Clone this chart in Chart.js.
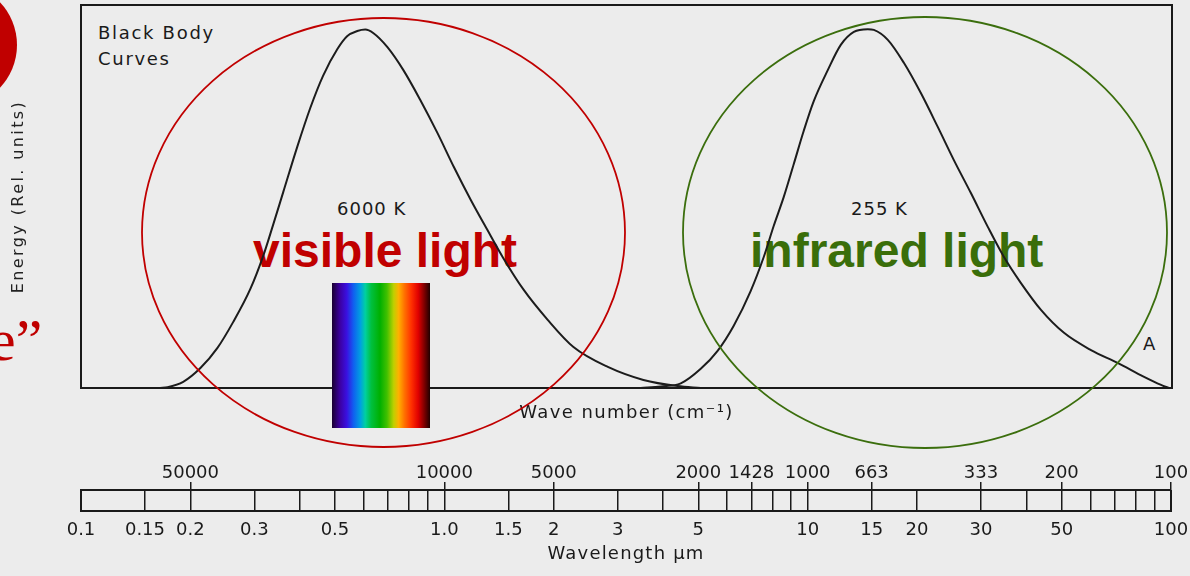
<!DOCTYPE html>
<html><head><meta charset="utf-8">
<script src="https://cdn.jsdelivr.net/npm/chart.js@4.4.1/dist/chart.umd.min.js"></script>
<style>
html,body{margin:0;padding:0;}
body{width:1190px;height:576px;overflow:hidden;background:#ececec;position:relative;font-family:'DejaVu Sans',sans-serif;}
.abs{position:absolute;white-space:nowrap;line-height:1;}
.lbl{font-family:'DejaVu Sans',sans-serif;font-size:18px;color:#1a1a1a;}
.big{font-family:'Liberation Sans',Arial,sans-serif;font-weight:bold;font-size:48px;}
#c1{position:absolute;left:0;top:0;}
#c2{position:absolute;left:0;top:440px;}
#spec{position:absolute;left:332px;top:283px;width:98px;height:145px;
 background:linear-gradient(to right,#1a0030 0%,#3c00a0 8%,#3a10e0 15%,#1060f0 22%,#00a0e0 29%,#00d0a0 34%,#00c040 40%,#00b000 49%,#40c000 56%,#c0d000 63%,#ffb000 68%,#ff7000 74%,#ff3000 81%,#e00000 88%,#700000 95%,#200000 100%);}
</style></head>
<body>
<div class="abs big" style="left:253px;top:227.4px;color:#c00000">visible light</div>
<div class="abs big" style="left:750px;top:227.4px;color:#3a6e0a">infrared light</div>
<div class="abs lbl" style="left:98px;top:23.8px;letter-spacing:1.7px">Black Body</div>
<div class="abs lbl" style="left:98px;top:49.8px;letter-spacing:1.7px">Curves</div>
<div class="abs lbl" style="left:337px;top:199.8px;letter-spacing:1px">6000 K</div>
<div class="abs lbl" style="left:851px;top:199.8px;letter-spacing:1px">255 K</div>
<div class="abs lbl" style="left:1143px;top:334.8px">A</div>
<div class="abs" style="left:-11px;top:309.7px;font-family:'Liberation Serif',serif;font-size:60px;color:#c00000">e”</div>
<canvas id="c1" width="1190" height="576"></canvas>
<canvas id="c2" width="1190" height="136"></canvas>
<div id="spec"></div>
<svg style="position:absolute;left:0;top:0" width="1190" height="576">
 <circle cx="-45" cy="45" r="62" fill="#c00000"/>
 <ellipse cx="383.5" cy="232.5" rx="241.5" ry="214.5" fill="none" stroke="#c00000" stroke-width="1.8"/>
 <ellipse cx="925" cy="232.5" rx="242" ry="215.5" fill="none" stroke="#3b6e0d" stroke-width="1.8"/>
</svg>
<script>
// 6000 K black body curve (wavelength in µm, relative energy)
const wl6000 = [0.165,0.173,0.191,0.213,0.237,0.262,0.292,0.317,0.338,0.360,0.393,0.427,0.463,0.507,0.540,0.575,0.605,0.636,0.696,0.770,0.857,0.955,1.06,1.18,1.31,1.45,1.65,1.92,2.26,2.81,3.52,4.37,5.06];
const en6000 = [0,0.2,1.6,5.2,10.4,17.2,25.8,34.5,42.8,51.2,62.9,73.1,81.5,88.5,91.9,93.2,93.6,92.7,89.0,83.0,75.2,66.6,57.7,49.1,41.3,33.9,25.6,17.8,10.7,5.5,2.1,0.5,0];
// 255 K black body curve
const wl255 = [3.46,3.93,4.46,5.06,5.63,6.23,6.94,7.54,8.03,8.56,9.12,9.71,10.35,11.31,12.28,13.34,14.57,15.14,16.54,18.31,20.39,22.71,25.13,27.99,31.18,34.51,38.43,43.62,50.47,59.87,71.06,83.8,93.3,98];
const en255 = [0,0.4,1.2,5.0,9.7,16.2,25.3,34.2,42.3,49.9,58.5,67.1,74.9,83.0,89.6,93.0,93.7,93.5,90.9,84.9,77.0,68.1,59.5,50.9,42.0,34.2,27.4,20.4,14.4,9.9,6.5,2.9,0.8,0];
// scale bar
const barTicks = [0.1,0.15,0.2,0.3,0.4,0.5,0.6,0.7,0.8,0.9,1,1.5,2,3,4,5,6,7,8,9,10,15,20,30,40,50,60,70,80,90,100];
const wlLabels = [0.1,0.15,0.2,0.3,0.5,1,1.5,2,3,5,10,15,20,30,50,100];
const wlLabelText = ['0.1','0.15','0.2','0.3','0.5','1.0','1.5','2','3','5','10','15','20','30','50','100'];
const wnPos = [0.2,1,2,5,7,10,15,30,50,100];
const wnText = ['50000','10000','5000','2000','1428','1000','663','333','200','100'];

const INK = '#1a1a1a';
const FONT = 'DejaVu Sans';

const framePlugin = {id:'frame', afterDatasetsDraw(chart){
  const {ctx, chartArea:a} = chart;
  ctx.save(); ctx.strokeStyle = INK; ctx.lineWidth = 2;
  ctx.strokeRect(a.left, a.top, a.right - a.left, a.bottom - a.top);
  ctx.restore();
}};
// y title drawn before datasets, x title after datasets (grid.z = 1)
const spacing1 = {id:'spacing1', beforeDraw(c){c.ctx.letterSpacing='2.4px';}, beforeDatasetsDraw(c){c.ctx.letterSpacing='1.4px';}, afterDraw(c){c.ctx.letterSpacing='0px';}};
const spacing2 = {id:'spacing2', beforeDraw(c){c.ctx.letterSpacing='1.2px';}, beforeDatasetsDraw(c){c.ctx.letterSpacing='0px';}};

new Chart(document.getElementById('c1'), {
  type:'line',
  data:{datasets:[
    {label:'6000 K', data: wl6000.map((x,i)=>({x, y:en6000[i]})), borderColor:'#1c1c1c', borderWidth:2, pointRadius:0, cubicInterpolationMode:'monotone', fill:false},
    {label:'255 K', data: wl255.map((x,i)=>({x, y:en255[i]})), borderColor:'#1c1c1c', borderWidth:2, pointRadius:0, cubicInterpolationMode:'monotone', fill:false}
  ]},
  options:{
    responsive:false, animation:false, events:[],
    layout:{padding:{left:0,right:18,top:5,bottom:0}},
    plugins:{legend:{display:false}, tooltip:{enabled:false}},
    scales:{
      x:{type:'logarithmic', min:0.1, max:100, position:'bottom',
         ticks:{display:false}, grid:{display:false, drawTicks:false, z:1}, border:{display:false},
         title:{display:true, text:'Wave number (cm⁻¹)', color:INK, font:{family:FONT, size:18}, padding:{top:15, bottom:151.4}}},
      y:{type:'linear', min:0, max:100,
         ticks:{display:false}, grid:{display:false, drawTicks:false}, border:{display:false},
         title:{display:true, text:'Energy (Rel. units)', color:'#222', font:{family:FONT, size:16}, padding:{top:9.6, bottom:52.2}}}
    }
  },
  plugins:[framePlugin, spacing1]
});

new Chart(document.getElementById('c2'), {
  type:'scatter',
  data:{datasets:[]},
  options:{
    responsive:false, animation:false, events:[],
    layout:{padding:{left:81,right:19,top:0,bottom:0}},
    plugins:{legend:{display:false}, tooltip:{enabled:false}},
    scales:{
      x:{type:'logarithmic', min:0.1, max:100, position:'bottom',
         afterBuildTicks:(s)=>{s.ticks = barTicks.map(v=>({value:v}));},
         ticks:{autoSkip:false, maxRotation:0, minRotation:0, padding:0, color:INK, font:{family:FONT,size:18,lineHeight:2.1}, z:1,
                callback:(v)=>{const i = wlLabels.indexOf(v); return i<0 ? '' : wlLabelText[i];}},
         grid:{display:true, drawOnChartArea:true, drawTicks:false, color:INK,
               lineWidth:(c)=> (c.tick && (c.tick.value===0.1 || c.tick.value===100)) ? 2 : 1.5},
         border:{display:true, color:INK, width:2},
         title:{display:true, text:'Wavelength µm', color:INK, font:{family:FONT,size:18}, padding:{top:-5.6,bottom:11.2}}},
      x2:{type:'logarithmic', min:0.1, max:100, position:'top',
         afterBuildTicks:(s)=>{s.ticks = wnPos.map(v=>({value:v}));},
         ticks:{autoSkip:false, maxRotation:0, minRotation:0, padding:-2.5, color:INK, font:{family:FONT,size:18}, z:1,
                callback:(v)=>{const i = wnPos.indexOf(v); return i<0 ? '' : wnText[i];}},
         grid:{display:true, drawOnChartArea:false, drawTicks:true, tickLength:8, color:INK, lineWidth:1.5},
         border:{display:true, color:INK, width:2},
         title:{display:true, text:' ', font:{size:10, lineHeight:1.2}, padding:{top:13.4, bottom:0}}},
      y:{display:false, min:0, max:1}
    }
  },
  plugins:[spacing2]
});
</script>
</body></html>
